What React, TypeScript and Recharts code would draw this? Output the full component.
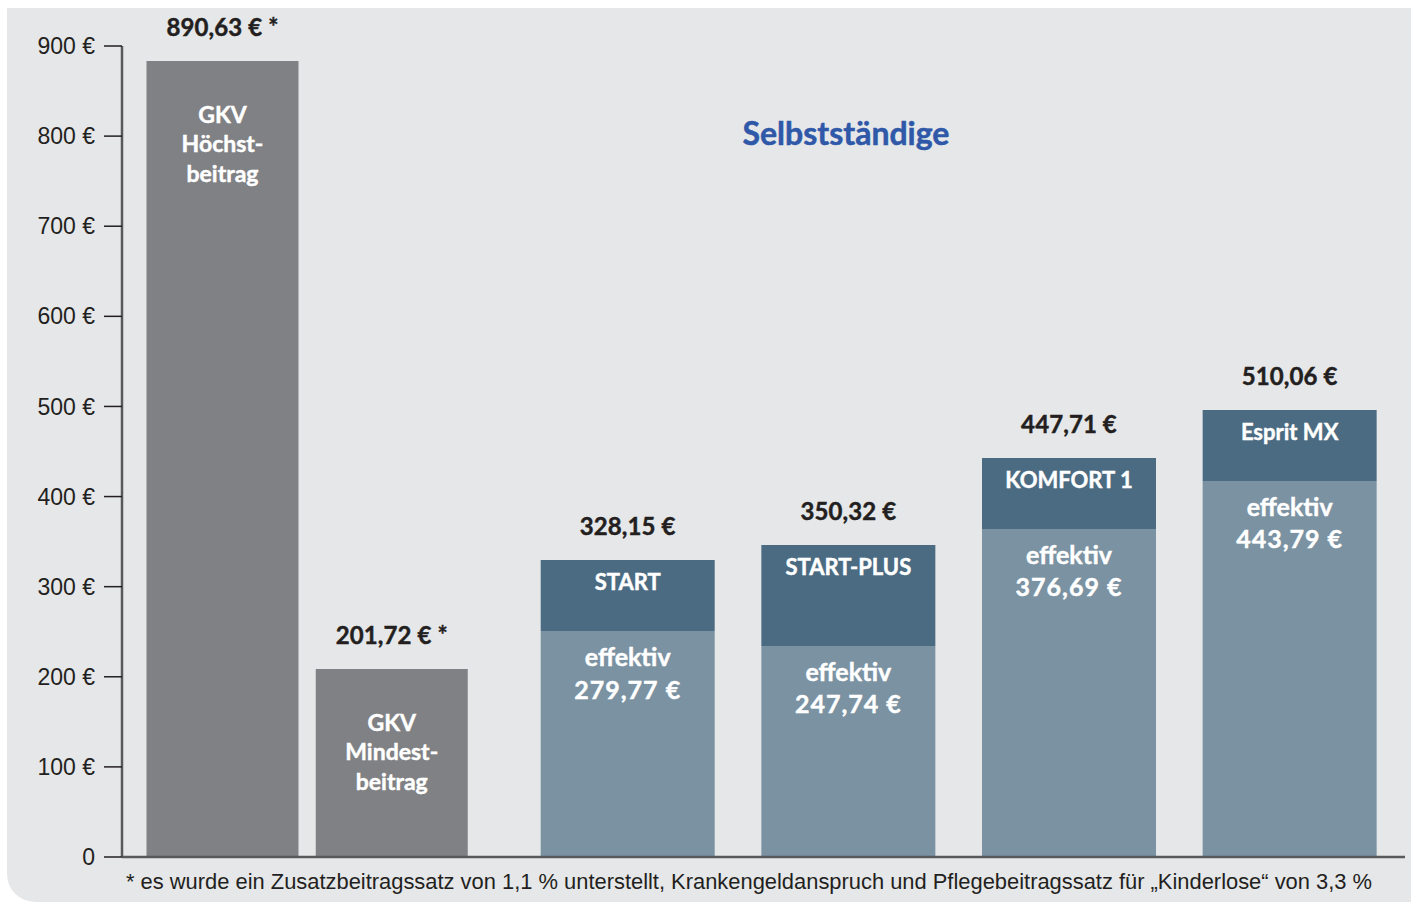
import React from "react";
import { BarChart, Bar, XAxis, YAxis, LabelList, ReferenceLine } from "recharts";

// ---- data ----
const gkvCategories = ["GKV Höchstbeitrag", "GKV Mindestbeitrag"];
const gkvValues = [883.4, 208.7];
const gkvValueLabels = ["890,63 € *", "201,72 € *"];
const gkvBarText = [
  ["GKV", "Höchst-", "beitrag"],
  ["GKV", "Mindest-", "beitrag"],
];

const pkvCategories = ["START", "START-PLUS", "KOMFORT 1", "Esprit MX"];
const pkvEffektiv = [250.8, 234.2, 364.0, 417.3];
const pkvRest = [78.8, 112.1, 78.8, 78.8];
const pkvTotalLabels = ["328,15 €", "350,32 €", "447,71 €", "510,06 €"];
const pkvEffektivLabels = ["279,77 €", "247,74 €", "376,69 €", "443,79 €"];

const yTicks = [0, 100, 200, 300, 400, 500, 600, 700, 800, 900];

const title = "Selbstständige";
const footnote =
  "* es wurde ein Zusatzbeitragssatz von 1,1 % unterstellt, Krankengeldanspruch und Pflegebeitragssatz für „Kinderlose“ von 3,3 %";

// ---- styles ----
const BG = "#e6e7e9";
const GKV_FILL = "#808184";
const PKV_DARK = "#4b6b82";
const PKV_LIGHT = "#7a92a2";
const AXIS = "#58595b";
const TEXT = "#231f20";
const LABEL_FONT = "Lato, 'Open Sans', sans-serif";
const TICK_FONT = "'Liberation Sans', Arial, sans-serif";

const gkvData = gkvCategories.map((name, i) => ({ name, value: gkvValues[i] }));
const pkvData = pkvCategories.map((name, i) => ({
  name,
  effektiv: pkvEffektiv[i],
  rest: pkvRest[i],
}));

const idxOf = (arr: string[], props: any) =>
  typeof props.index === "number" ? props.index : arr.indexOf(props.value);

const txt = (x: number, y: number, s: string, size: number, fill: string, ls = 0, key?: any) => (
  <text key={key} x={x} y={y} textAnchor="middle" dominantBaseline="central"
    fontFamily={LABEL_FONT} fontWeight={700} fontSize={size} fill={fill} letterSpacing={ls}
    stroke={fill} strokeWidth={0.45}>
    {s}
  </text>
);

const GkvLabel = (props: any) => {
  const { x, y, width } = props;
  const i = idxOf(gkvCategories, props);
  const cx = x + width / 2;
  return (
    <g>
      {txt(cx, y - 34, gkvValueLabels[i], 24, TEXT, 0.1)}
      {gkvBarText[i].map((t, k) => txt(cx, y + 53 + k * 29.5, t, 23, "#ffffff", 0, k))}
    </g>
  );
};

const RestLabel = (props: any) => {
  const { x, y, width } = props;
  const i = idxOf(pkvCategories, props);
  const cx = x + width / 2;
  return (
    <g>
      {txt(cx, y - 34, pkvTotalLabels[i], 24, TEXT, 0.1)}
      {txt(cx, y + 22, pkvCategories[i], 22, "#ffffff")}
    </g>
  );
};

const EffLabel = (props: any) => {
  const { x, y, width } = props;
  const i = idxOf(pkvCategories, props);
  const cx = x + width / 2;
  return (
    <g>
      {txt(cx, y + 25, "effektiv", 25, "#ffffff")}
      {txt(cx, y + 57.5, pkvEffektivLabels[i], 25, "#ffffff", 1)}
    </g>
  );
};

export default function App() {
  return (
    <div style={{ position: "absolute", left: 0, top: 0, width: 1411, height: 902, overflow: "hidden", background: "#ffffff" }}>
      <div style={{ position: "absolute", left: 7, top: 8, width: 1404, height: 894, background: BG, borderBottomLeftRadius: 28 }} />
      <div style={{ position: "absolute", left: 0, top: 0 }}>
        <BarChart width={1411} height={902} data={pkvData}
          margin={{ top: 46, right: 6, bottom: 44, left: 476 }} barCategoryGap={0}>
          <XAxis dataKey="name" tick={false} tickLine={false} axisLine={false} height={1}
            padding={{ left: 41.7, right: 4.7 }} />
          <YAxis hide domain={[0, 900]} ticks={yTicks} />
          <Bar dataKey="effektiv" stackId="p" fill={PKV_LIGHT} barSize={174} isAnimationActive={false}>
            <LabelList dataKey="name" content={EffLabel} />
          </Bar>
          <Bar dataKey="rest" stackId="p" fill={PKV_DARK} barSize={174} isAnimationActive={false}>
            <LabelList dataKey="name" content={RestLabel} />
          </Bar>
          <ReferenceLine y={0} stroke={AXIS} strokeWidth={2.5} ifOverflow="visible" />
        </BarChart>
      </div>
      <div style={{ position: "absolute", left: 0, top: 0 }}>
        <BarChart width={477} height={902} data={gkvData}
          margin={{ top: 46, right: 1, bottom: 44, left: 0 }} barCategoryGap={0}>
          <XAxis dataKey="name" tick={false} tickLine={false} axisLine={false} height={1}
            padding={{ left: 15.5, right: 0 }} />
          <YAxis domain={[0, 900]} ticks={yTicks} width={122} tickSize={18} tickMargin={9}
            interval={0}
            axisLine={{ stroke: AXIS, strokeWidth: 2.5 }}
            tickLine={{ stroke: TEXT, strokeWidth: 1.5 }}
            tick={{ fontFamily: TICK_FONT, fontSize: 23, fill: TEXT }}
            tickFormatter={(v: number) => (v === 0 ? "0" : `${v} €`)} />
          <Bar dataKey="value" fill={GKV_FILL} barSize={152} isAnimationActive={false}>
            <LabelList dataKey="name" content={GkvLabel} />
          </Bar>
          <ReferenceLine y={0} stroke={AXIS} strokeWidth={2.5} ifOverflow="visible" />
        </BarChart>
      </div>
      <div style={{ position: "absolute", left: 0, width: 1692, top: 113, textAlign: "center", fontFamily: LABEL_FONT, fontWeight: 700, fontSize: 32, color: "#2f58a8", lineHeight: "40px", WebkitTextStroke: "0.5px #2f58a8" }}>
        {title}
      </div>
      <div style={{ position: "absolute", left: 126, top: 868, whiteSpace: "nowrap", fontFamily: TICK_FONT, fontSize: 21.9, color: TEXT, lineHeight: "28px" }}>
        {footnote}
      </div>
    </div>
  );
}
